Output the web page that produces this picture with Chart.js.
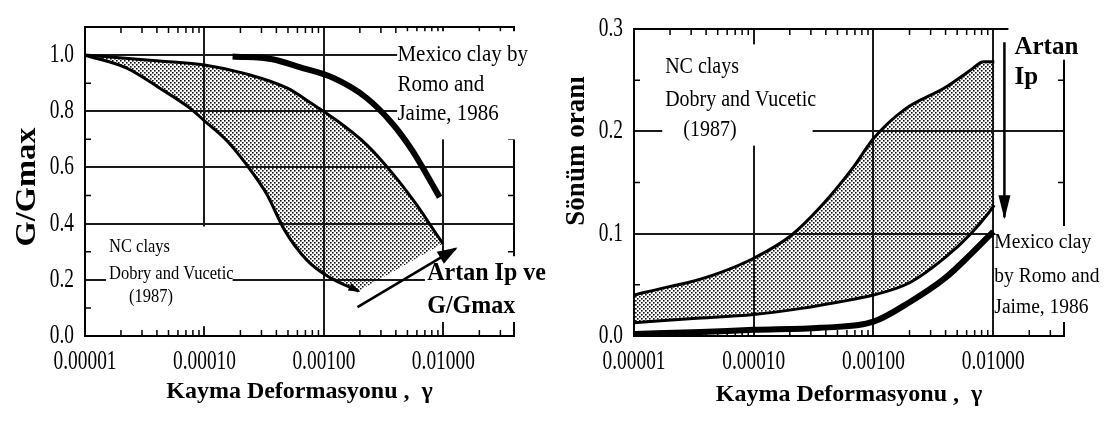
<!DOCTYPE html>
<html>
<head>
<meta charset="utf-8">
<script src="https://cdn.jsdelivr.net/npm/chart.js@4.4.1/dist/chart.umd.min.js"></script>
<style>
  html, body { margin: 0; padding: 0; background: #fff; }
  #wrap { position: relative; width: 1110px; height: 421px; overflow: hidden; }
  canvas { position: absolute; top: 0; }
  #gChart { left: 0; }
  #dChart { left: 555px; }
</style>
</head>
<body>
<div id="wrap">
  <canvas id="gChart" width="555" height="421"></canvas>
  <canvas id="dChart" width="555" height="421"></canvas>
</div>
<script>
// 横軸（せん断ひずみ）の目盛
var strainTicks = [0.00001, 0.0001, 0.001, 0.01];
var strainTickLabels = ['0.00001', '0.00010', '0.00100', '0.01000'];

// G/Gmax の目盛
var gTicks = [0, 0.2, 0.4, 0.6, 0.8, 1.0];
var gTickLabels = ['0.0', '0.2', '0.4', '0.6', '0.8', '1.0'];

// 減衰比の目盛
var dampTicks = [0, 0.1, 0.2, 0.3];
var dampTickLabels = ['0.0', '0.1', '0.2', '0.3'];

// NC粘土（Dobry and Vucetic）G/Gmax 帯の上限
var ncUpperStrain = [0.00001, 0.000042, 0.0001, 0.000224, 0.00049, 0.0008, 0.00118, 0.00225, 0.00378, 0.0059, 0.0087, 0.0099];
var ncUpperG = [1.0, 0.979, 0.965, 0.933, 0.883, 0.826, 0.778, 0.683, 0.577, 0.47, 0.364, 0.329];

// NC粘土 G/Gmax 帯の下限
var ncLowerStrain = [0.00001, 0.0000224, 0.000042, 0.000075, 0.0001, 0.000154, 0.000225, 0.00033, 0.00047, 0.00072, 0.0011, 0.00195];
var ncLowerG = [1.0, 0.954, 0.883, 0.812, 0.766, 0.695, 0.61, 0.507, 0.376, 0.27, 0.21, 0.16];

// メキシコ粘土（Romo and Jaime）G/Gmax
var mexicoStrain = [0.000172, 0.00037, 0.000625, 0.00118, 0.00225, 0.00378, 0.0055, 0.0072, 0.0093];
var mexicoG = [0.995, 0.985, 0.957, 0.92, 0.849, 0.754, 0.66, 0.577, 0.494];

// 「Artan Ip ve G/Gmax」の矢印
var gArrowStrain = [0.00191, 0.0127];
var gArrowG = [0.103, 0.311];

// NC粘土 減衰比 帯の上限
var dampUpperStrain = [0.00001, 0.0000193, 0.0000278, 0.0000525, 0.0001, 0.000204, 0.00036, 0.00068, 0.001, 0.0018, 0.004, 0.0065, 0.0083, 0.0102];
var dampUpper = [0.040, 0.048, 0.052, 0.062, 0.076, 0.098, 0.126, 0.165, 0.193, 0.221, 0.243, 0.26, 0.268, 0.268];

// NC粘土 減衰比 帯の下限
var dampLowerStrain = [0.00001, 0.000031, 0.0001, 0.00025, 0.0005, 0.001, 0.002, 0.004, 0.0065, 0.0091, 0.0102];
var dampLower = [0.013, 0.017, 0.021, 0.027, 0.033, 0.040, 0.052, 0.077, 0.10, 0.12, 0.128];

// メキシコ粘土 減衰比
var mexicoDampStrain = [0.00001, 0.000036, 0.0001, 0.00036, 0.001, 0.002, 0.004, 0.0065, 0.01];
var mexicoDamp = [0.002, 0.004, 0.006, 0.008, 0.014, 0.033, 0.057, 0.08, 0.102];

// 「Artan Ip」の矢印
var dArrowStrain = [0.0124, 0.0124];
var dArrowDamp = [0.287, 0.116];

var serif = "'Liberation Serif', 'Times New Roman', serif";
var tickFont = '20px ' + serif;

// 対数軸の補助目盛 (2〜9 × 10^n)
var strainMinor = [];
for (var d = -5; d <= -2; d++) {
    for (var k = 2; k <= 9; k++) {
        strainMinor.push(k * Math.pow(10, d));
    }
}

function toPoints(xs, ys) {
    return xs.map(function(x, i) { return { x: x, y: ys[i] }; });
}

// 曲線のデータセット
function curve(xs, ys, width, head) {
    return {
        data: toPoints(xs, ys),
        borderColor: '#000',
        borderWidth: width,
        pointRadius: 0,
        cubicInterpolationMode: 'monotone',
        fill: false,
        arrowHead: head || null
    };
}

// 矢印（直線）のデータセット
function arrow(xs, ys, width, head) {
    return {
        data: toPoints(xs, ys),
        borderColor: '#000',
        borderWidth: width,
        pointRadius: 0,
        tension: 0,
        fill: false,
        arrowHead: head
    };
}

// 網掛けのパターン
var patternCache = null;
function dotPattern(ctx) {
    if (patternCache) return patternCache;
    var c = document.createElement('canvas');
    c.width = 4;
    c.height = 4;
    var p = c.getContext('2d');
    p.fillStyle = '#111';
    p.fillRect(0, 0, 1.6, 1.6);
    p.fillRect(2, 2, 1.6, 1.6);
    patternCache = ctx.createPattern(c, 'repeat');
    return patternCache;
}

// 縦長の文字を描く
function tallText(ctx, text, x, y, font, align, sx, sy) {
    ctx.save();
    ctx.translate(x, y);
    ctx.scale(sx || 1, sy || 1);
    ctx.font = font;
    ctx.textAlign = align;
    ctx.textBaseline = 'middle';
    ctx.fillText(text, 0, 0);
    ctx.restore();
}

// 各図の注記・白抜き・帯の設定
var figures = {
    gChart: {
        band: [0, 1],
        yTicks: gTicks,
        yLabels: gTickLabels,
        yMinor: [0.1, 0.3, 0.5, 0.7, 0.9],
        masks: [
            [0.0041, 0.06, 0.70, 1.085],
            [0.000015, 0.000172, 0.035, 0.39],
            [0.0070, 0.06, 0.05, 0.284]
        ],
        notes: [
            { text: 'Mexico clay by', x: 0.00412, y: 1.0, font: '21px ' + serif, sy: 1.08 },
            { text: 'Romo and', x: 0.00412, y: 0.894, font: '21px ' + serif, sy: 1.08 },
            { text: 'Jaime, 1986', x: 0.00412, y: 0.791, font: '21px ' + serif, sy: 1.08 },
            { text: 'NC clays', x: 0.0000159, y: 0.316, font: '16.5px ' + serif, sy: 1.2 },
            { text: 'Dobry and Vucetic', x: 0.0000159, y: 0.223, font: '16.5px ' + serif, sy: 1.2 },
            { text: '(1987)', x: 0.0000233, y: 0.138, font: '16.5px ' + serif, sy: 1.2 },
            { text: 'Artan Ip ve', x: 0.00733, y: 0.223, font: 'bold 24px ' + serif, sy: 1.05 },
            { text: 'G/Gmax', x: 0.00733, y: 0.106, font: 'bold 24px ' + serif, sy: 1.05 }
        ],
        yTitle: { text: 'G/Gmax', x: 27, y: 187, font: 'bold 30px ' + serif, sx: 1.08 }
    },
    dChart: {
        band: [0, 1],
        yTicks: dampTicks,
        yLabels: dampTickLabels,
        yMinor: [0.05, 0.15, 0.25],
        masks: [
            [0.0000172, 0.00031, 0.186, 0.285],
            [0.0134, 0.06, 0.27, 0.311],
            [0.0104, 0.06, 0.0137, 0.1075]
        ],
        notes: [
            { text: 'NC clays', x: 0.0000182, y: 0.263, font: '20px ' + serif, sy: 1.15 },
            { text: 'Dobry and Vucetic', x: 0.0000182, y: 0.231, font: '20px ' + serif, sy: 1.15 },
            { text: '(1987)', x: 0.0000258, y: 0.201, font: '20px ' + serif, sy: 1.15 },
            { text: 'Artan', x: 0.01503, y: 0.2815, font: 'bold 25px ' + serif },
            { text: 'Ip', x: 0.01503, y: 0.2522, font: 'bold 25px ' + serif },
            { text: 'Mexico clay', x: 0.01021, y: 0.0919, font: '19.5px ' + serif, sy: 1.12 },
            { text: 'by Romo and', x: 0.01021, y: 0.0587, font: '19.5px ' + serif, sy: 1.12 },
            { text: 'Jaime, 1986', x: 0.01021, y: 0.0283, font: '19.5px ' + serif, sy: 1.12 }
        ],
        yTitle: { text: 'Sönüm oranı', x: 22, y: 151, font: 'bold 27px ' + serif, sx: 1.0 }
    }
};

var figurePlugin = {
    id: 'figure',
    beforeDatasetsDraw: function(chart) {
        var f = figures[chart.canvas.id];
        var ctx = chart.ctx, area = chart.chartArea;
        var sx = chart.scales.x, sy = chart.scales.y;
        ctx.save();
        // 上辺と右辺の枠
        ctx.strokeStyle = '#000';
        ctx.lineWidth = 2;
        ctx.beginPath();
        ctx.moveTo(area.left, area.top);
        ctx.lineTo(area.right, area.top);
        ctx.lineTo(area.right, area.bottom);
        ctx.stroke();
        // 内向きの補助目盛
        ctx.lineWidth = 1.5;
        ctx.beginPath();
        strainMinor.forEach(function(v) {
            if (v >= sx.max) return;
            var x = sx.getPixelForValue(v);
            ctx.moveTo(x, area.top);
            ctx.lineTo(x, area.top + 6);
            ctx.moveTo(x, area.bottom);
            ctx.lineTo(x, area.bottom - 6);
        });
        f.yMinor.forEach(function(v) {
            var y = sy.getPixelForValue(v);
            ctx.moveTo(area.left, y);
            ctx.lineTo(area.left + 6, y);
            ctx.moveTo(area.right, y);
            ctx.lineTo(area.right - 6, y);
        });
        ctx.stroke();
        // 注記の部分は罫線を消す
        ctx.fillStyle = '#fff';
        f.masks.forEach(function(m) {
            var x0 = sx.getPixelForValue(m[0]), x1 = sx.getPixelForValue(m[1]);
            var y0 = sy.getPixelForValue(m[3]), y1 = sy.getPixelForValue(m[2]);
            ctx.fillRect(x0, y0, x1 - x0, y1 - y0);
        });
        // 上限と下限の間を網掛け
        var up = chart.getDatasetMeta(f.band[0]).dataset;
        var lo = chart.getDatasetMeta(f.band[1]).dataset;
        up.updateControlPoints(area, 'x');
        lo.updateControlPoints(area, 'x');
        ctx.beginPath();
        up.pathSegment(ctx, up.segments[0]);
        lo.pathSegment(ctx, lo.segments[0], { move: false, reverse: true });
        ctx.closePath();
        ctx.fillStyle = dotPattern(ctx);
        ctx.fill();
        ctx.restore();
    },
    afterDatasetsDraw: function(chart) {
        var f = figures[chart.canvas.id];
        var ctx = chart.ctx, area = chart.chartArea;
        var sx = chart.scales.x, sy = chart.scales.y;
        ctx.save();
        ctx.fillStyle = '#000';
        // 矢印の先端
        chart.data.datasets.forEach(function(ds, i) {
            if (!ds.arrowHead) return;
            var pts = chart.getDatasetMeta(i).data;
            var p1 = pts[pts.length - 1], p0 = pts[pts.length - 2];
            var ang = Math.atan2(p1.y - p0.y, p1.x - p0.x);
            ctx.save();
            ctx.translate(p1.x, p1.y);
            ctx.rotate(ang);
            ctx.beginPath();
            ctx.moveTo(2, 0);
            ctx.lineTo(-ds.arrowHead[0], -ds.arrowHead[1]);
            ctx.lineTo(-ds.arrowHead[0], ds.arrowHead[1]);
            ctx.closePath();
            ctx.fill();
            ctx.restore();
        });
        // 目盛ラベル（縦長の書体）
        strainTicks.forEach(function(v, i) {
            tallText(ctx, strainTickLabels[i], sx.getPixelForValue(v), area.bottom + 26, tickFont, 'center', 0.97, 1.32);
        });
        f.yTicks.forEach(function(v, i) {
            tallText(ctx, f.yLabels[i], area.left - 11, sy.getPixelForValue(v), tickFont, 'right', 0.97, 1.32);
        });
        // 注記
        f.notes.forEach(function(n) {
            tallText(ctx, n.text, sx.getPixelForValue(n.x), sy.getPixelForValue(n.y), n.font, 'left', n.sx, n.sy);
        });
        // 縦軸のタイトル
        var t = f.yTitle;
        ctx.save();
        ctx.translate(t.x, t.y);
        ctx.rotate(-Math.PI / 2);
        ctx.scale(t.sx, 1);
        ctx.font = t.font;
        ctx.textAlign = 'center';
        ctx.textBaseline = 'middle';
        ctx.fillText(t.text, 0, 0);
        ctx.restore();
        ctx.restore();
    }
};

// グラフを描画する関数
function drawChart(id, datasets, yOpts, layout) {
    return new Chart(document.getElementById(id), {
        type: 'line',
        data: { datasets: datasets },
        options: {
            responsive: false,
            animation: false,
            events: [],
            layout: { padding: layout.padding },
            plugins: { legend: { display: false }, tooltip: { enabled: false } },
            scales: {
                x: {
                    type: 'logarithmic',
                    min: 0.00001,
                    max: 0.039,
                    afterBuildTicks: function(s) {
                        s.ticks = strainTicks.map(function(v) { return { value: v }; });
                    },
                    afterFit: function(s) { s.height = 85; },
                    ticks: { display: false },
                    grid: { color: '#1a1a1a', lineWidth: 2, drawTicks: false },
                    border: { color: '#000', width: 2 },
                    title: {
                        display: true,
                        text: 'Kayma Deformasyonu ,  γ',
                        color: '#000',
                        font: { family: serif, size: 24, weight: 'bold' },
                        padding: { top: 0, bottom: layout.titlePad }
                    }
                },
                y: {
                    type: 'linear',
                    min: 0,
                    max: yOpts.max,
                    afterBuildTicks: function(s) {
                        s.ticks = yOpts.ticks.map(function(v) { return { value: v }; });
                    },
                    afterFit: function(s) { s.width = layout.yWidth; },
                    ticks: { display: false },
                    grid: { color: '#1a1a1a', lineWidth: 2, drawTicks: false },
                    border: { color: '#000', width: 2 }
                }
            }
        },
        plugins: [figurePlugin]
    });
}

// 左：G/Gmax
drawChart('gChart', [
    curve(ncUpperStrain, ncUpperG, 3),
    curve(ncLowerStrain, ncLowerG, 3, [10, 4]),
    curve(mexicoStrain, mexicoG, 6),
    arrow(gArrowStrain, gArrowG, 2.5, [18, 7])
], { max: 1.1, ticks: gTicks },
   { padding: { left: 0, top: 27, right: 41, bottom: 0 }, yWidth: 85, titlePad: 15 });

// 右：減衰比
drawChart('dChart', [
    curve(dampUpperStrain, dampUpper, 3),
    curve(dampLowerStrain, dampLower, 3),
    curve(mexicoDampStrain, mexicoDamp, 6),
    arrow(dArrowStrain, dArrowDamp, 2.5, [22, 6])
], { max: 0.3, ticks: dampTicks },
   { padding: { left: 0, top: 29, right: 46, bottom: 0 }, yWidth: 79, titlePad: 12 });
</script>
</body>
</html>
